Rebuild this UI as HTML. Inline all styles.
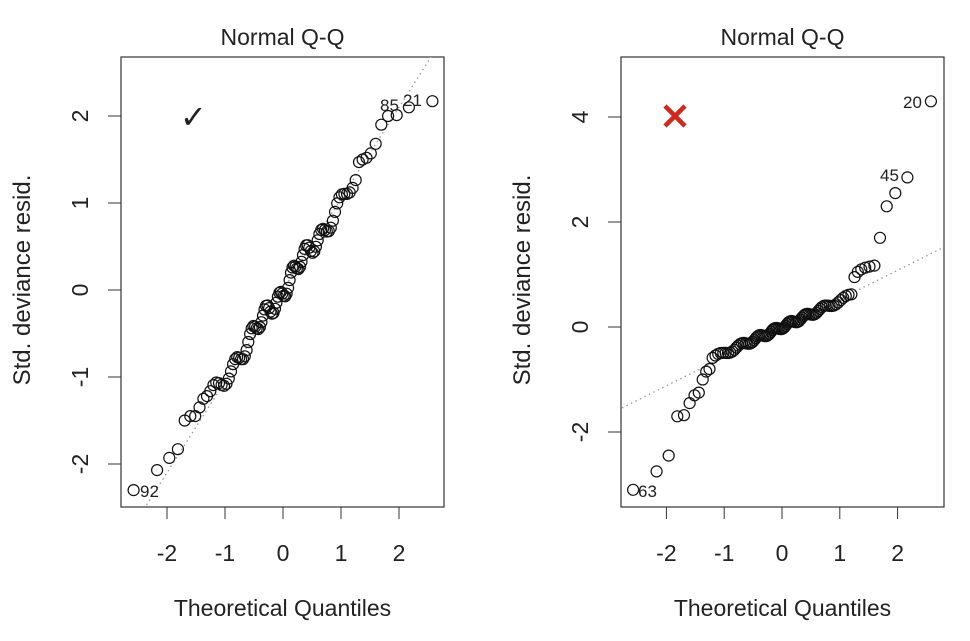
<!DOCTYPE html>
<html><head><meta charset="utf-8"><style>
body{margin:0;background:#fff;}
svg text{font-family:"Liberation Sans",Arial,sans-serif;fill:#222;}
</style></head><body>
<svg id="s" width="970" height="636" xmlns="http://www.w3.org/2000/svg"></svg>
<script>
const s=document.getElementById('s');
let h='';
function qn(p){const a=[-39.69683028665376,220.9460984245205,-275.9285104469687,138.357751867269,-30.66479806614716,2.506628277459239],b=[-54.47609879822406,161.5858368580409,-155.6989798598866,66.80131188771972,-13.28068155288572],c=[-0.007784894002430293,-0.3223964580411365,-2.400758277161838,-2.549732539343734,4.374664141464968,2.938163982698783],d=[0.007784695709041462,0.3224671290700398,2.445134137142996,3.754408661907416];
if(p<0.02425){const q=Math.sqrt(-2*Math.log(p));return(((((c[0]*q+c[1])*q+c[2])*q+c[3])*q+c[4])*q+c[5])/((((d[0]*q+d[1])*q+d[2])*q+d[3])*q+1);}
if(p>1-0.02425)return -qn(1-p);
const q=p-0.5,r=q*q;return(((((a[0]*r+a[1])*r+a[2])*r+a[3])*r+a[4])*r+a[5])*q/(((((b[0]*r+b[1])*r+b[2])*r+b[3])*r+b[4])*r+1);}
const n=100,Q=[];for(let i=1;i<=n;i++)Q.push(qn((i-0.5)/n));
function panel(o){
 const X=v=>o.x0+v*o.sx, Y=v=>o.y0-v*o.sy;
 h+=`<rect x="${o.L}" y="57" width="${o.R-o.L}" height="450" fill="none" stroke="#333" stroke-width="1.2"/>`;
 h+=`<text x="${(o.L+o.R)/2}" y="45" font-size="23" text-anchor="middle">Normal Q-Q</text>`;
 h+=`<text x="${(o.L+o.R)/2}" y="616" font-size="23" text-anchor="middle">Theoretical Quantiles</text>`;
 h+=`<text transform="translate(${o.L-91},280) rotate(-90)" font-size="24" text-anchor="middle">Std. deviance resid.</text>`;
 h+=`<line x1="${X(-2)}" y1="507" x2="${X(2)}" y2="507" stroke="#333"/>`;
 for(let t=-2;t<=2;t++){h+=`<line x1="${X(t)}" y1="507" x2="${X(t)}" y2="519" stroke="#333"/><text x="${X(t)}" y="561" font-size="23" text-anchor="middle">${t}</text>`;}
 h+=`<line x1="${o.L}" y1="${Y(o.yt[0])}" x2="${o.L}" y2="${Y(o.yt[o.yt.length-1])}" stroke="#333"/>`;
 for(const t of o.yt){h+=`<line x1="${o.L-13}" y1="${Y(t)}" x2="${o.L}" y2="${Y(t)}" stroke="#333"/><text transform="translate(${o.L-33},${Y(t)}) rotate(-90)" font-size="23" text-anchor="middle">${t}</text>`;}
 const xa=-3,xb=3;h+=`<clipPath id="c${o.L}"><rect x="${o.L}" y="57" width="${o.R-o.L}" height="450"/></clipPath>`;
 h+=`<line clip-path="url(#c${o.L})" x1="${X(xa)}" y1="${Y(o.a+o.b*xa)}" x2="${X(xb)}" y2="${Y(o.a+o.b*xb)}" stroke="#999" stroke-width="1.3" stroke-dasharray="1.5,3.5"/>`;
 for(let i=0;i<n;i++){h+=`<circle cx="${X(Q[i]).toFixed(1)}" cy="${Y(o.y[i]).toFixed(1)}" r="5.5" fill="none" stroke="#111" stroke-width="1.2"/>`;}
 h+=o.extra;
}
let yl=Q.map((q,i)=>q*1.0+0.08*Math.sin(i*0.7)+0.05*Math.sin(i*0.23));
const lowL=[-2.3,-2.07,-1.93,-1.83,-1.5,-1.45,-1.45,-1.35,-1.25,-1.22];
const hiL=[2.17,2.1,2.01,2.0,1.9,1.68,1.57,1.52,1.5,1.47];
lowL.forEach((v,i)=>yl[i]=v);hiL.forEach((v,i)=>yl[n-1-i]=v);
panel({L:121,R:444,x0:283,sx:58,y0:290,sy:87,yt:[-2,-1,0,1,2],y:yl,a:0.0,b:1.05,
 extra:`<text x="140" y="497" font-size="17">92</text><text x="380" y="111" font-size="17">85</text><text x="403" y="106" font-size="17">21</text><text x="180" y="128" font-size="32" fill="#444">✓</text>`});
let yr=Q.map((q,i)=>q*0.5+0.04*Math.sin(i*0.6));
const lowR=[-3.1,-2.75,-2.45,-1.7,-1.68,-1.45,-1.3,-1.25,-1.0,-0.85,-0.8];
const hiR=[4.3,2.85,2.55,2.3,1.7,1.17,1.15,1.13,1.1,1.05,0.95];
lowR.forEach((v,i)=>yr[i]=v);hiR.forEach((v,i)=>yr[n-1-i]=v);
panel({L:621,R:944,x0:782,sx:57.8,y0:327,sy:52.5,yt:[-2,0,2,4],y:yr,a:-0.02,b:0.55,
 extra:`<text x="638" y="497" font-size="17">63</text><text x="903" y="108" font-size="17">20</text><text x="880" y="181" font-size="17">45</text><path d="M665 106 L685 126 M685 106 L665 126" stroke="#d3271e" stroke-width="4.5"/>`});
s.innerHTML=h;
</script>
</body></html>
